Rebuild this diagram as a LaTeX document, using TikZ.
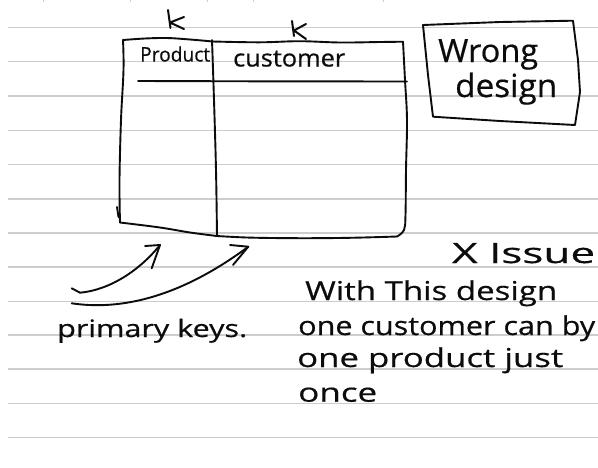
\documentclass[tikz,border=0pt]{standalone}
\usepackage{fontspec}
\setmainfont{Open Sans}[UprightFeatures={FakeBold=0.5}]
\definecolor{rulegray}{RGB}{205,205,205}
\definecolor{inkblack}{RGB}{12,12,12}
% set a line of text to a given width, keeping its height
\newcommand\fitw[2]{\resizebox{#1}{\height}{#2}}
\begin{document}
\begin{tikzpicture}[x=1pt,y=-1pt,
  rule/.style={draw=rulegray,line width=1.5pt},
  ink/.style={draw=inkblack,line width=1.9pt,line cap=round,line join=round},
  hand/.style={inner sep=0pt,anchor=base west,text=inkblack},
  body/.style={hand,font=\fontsize{26}{26}\selectfont},
]
\useasboundingbox (0,0) rectangle (598,467);
\fill[white] (0,0) rectangle (598,467);

% ruled notebook paper
\foreach \y in {27.7,61.7,96,130.3,164.7,199,233,267,301.3,335,369,403.3,437.3}
  \draw[rule] (8,\y) -- (598,\y);
\foreach \x in {43,130,207,253,383}
  \draw[draw=rulegray,line width=1pt] (\x,0) -- (\x,2);

% ---- table with two key columns ----
\coordinate (tTL) at (123,40);
\coordinate (tTM) at (213,41.5);
\coordinate (tTR) at (403,41.7);
\coordinate (tBR) at (397,236.5);
\coordinate (tBM) at (217,236);
\coordinate (tBL) at (120,222.5);
% top edge
\draw[ink] plot[smooth,tension=0.6] coordinates {(tTL) (145,38.5) (167,38) (190,39.5) (tTM)};
\draw[ink] plot[smooth,tension=0.6] coordinates {(tTM) (260,42.3) (300,41.2) (340,42.5) (380,42) (tTR)};
% right edge with rounded lower corner
\draw[ink] plot[smooth,tension=0.6] coordinates {(tTR) (405,80) (407,120) (406,170) (405.5,215) (404,230) (tBR)};
% bottom edge
\draw[ink] plot[smooth,tension=0.6] coordinates {(tBR) (350,237.8) (300,238.2) (250,237.6) (tBM)};
\draw[ink] plot[smooth,tension=0.6] coordinates {(tBM) (190,232.5) (160,227.5) (tBL)};
% left edge
\draw[ink] plot[smooth,tension=0.6] coordinates {(tBL) (119.5,180) (121,120) (123.5,70) (tTL)};
\draw[ink] (117,207) -- (118.5,217);
% column divider and header rule
\draw[ink] plot[smooth,tension=0.6] coordinates {(212,40) (214,100) (216,170) (217,236)};
\draw[ink] (138,81) -- (250,81.3) -- (407,81.5);

% column headers
\node[hand,font=\fontsize{20}{20}\selectfont] (hprod) at (140,61.5) {\fitw{70pt}{Product}};
\node[hand,font=\fontsize{24}{24}\selectfont] (hcust) at (233,66.5) {\fitw{112pt}{customer}};

% key marks above the headers
\draw[ink,line width=2pt] (168,10) -- (170.5,28)
  (184,17) -- (170,22.5) -- (184,29);
\draw[ink,line width=2pt] (292,21) -- (294,36)
  (306,24) -- (294,30.5) -- (306,39);

% ---- "Wrong design" box ----
\draw[ink] (423,25) -- (500,22) -- (573,20.7)
  -- (578,60) -- (580,92) -- (575,125)
  -- (500,121) -- (433,116.7)
  -- (428,75) -- cycle;
\node[hand,font=\fontsize{32}{32}\selectfont] (wrong) at (438,62) {\fitw{100pt}{Wrong}};
\node[hand,font=\fontsize{32}{32}\selectfont] (wdesign) at (455,97) {\fitw{102pt}{design}};

% ---- arrows pointing at the key columns ----
\coordinate (hookA) at (71.7,288.3);
\coordinate (tailA) at (80,292.7);
\coordinate (tipA) at (160,245);
\coordinate (tailB) at (71.7,303.3);
\coordinate (tipB) at (248.3,246.7);
\draw[ink] (hookA) -- (tailA) .. controls (110,290) and (140,270) .. (tipA);
\draw[ink] (145,246) -- (tipA) -- (151.7,268.3);
\draw[ink] (tailB) .. controls (130,312) and (190,290) .. (tipB);
\draw[ink] (230,245) -- (tipB) -- (233,265);

\node[hand,font=\fontsize{24}{24}\selectfont] (pk) at (57,337) {\fitw{190pt}{primary keys.}};

% ---- the note on the right ----
\node[hand,font=\fontsize{28}{28}\selectfont] (issue) at (452,263) {\fitw{143pt}{X Issue}};
\node[body] (n1) at (305,300) {\fitw{252pt}{With This design}};
\node[body] (n2) at (298,335) {\fitw{297pt}{one customer can by}};
\node[body] (n3) at (297,367) {\fitw{266pt}{one product just}};
\node[body] (n4) at (298,401.7) {\fitw{79pt}{once}};
\end{tikzpicture}
\end{document}
